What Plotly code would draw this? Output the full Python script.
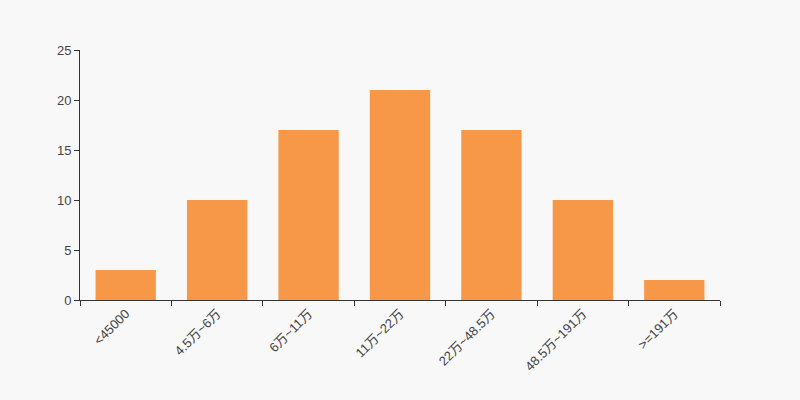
import plotly.graph_objects as go

# 收入区间与人数
categories = ["<45000", "4.5万~6万", "6万~11万", "11万~22万", "22万~48.5万", "48.5万~191万", ">=191万"]
values = [3, 10, 17, 21, 17, 10, 2]

fig = go.Figure()
fig.add_trace(go.Bar(x=categories, y=values, marker_color="#f79849",
                     marker_line_width=0, width=0.66, showlegend=False))

fig.update_layout(
    width=800, height=400,
    margin=dict(l=80, r=80, t=50, b=100),
    paper_bgcolor="#f8f8f8", plot_bgcolor="#f8f8f8",
    font=dict(family="Liberation Sans, Noto Sans CJK SC, sans-serif", size=13, color="#444"),
)
fig.update_xaxes(type="category", tickangle=-45, tickson="boundaries",
                 ticks="outside", ticklen=5, tickcolor="#333",
                 showline=True, linecolor="#333", linewidth=1,
                 showgrid=False, zeroline=False)
fig.update_yaxes(range=[0, 25], dtick=5, ticks="outside", ticklen=5, tickcolor="#333",
                 showline=True, linecolor="#333", linewidth=1,
                 showgrid=False, zeroline=False)

# 去掉页面默认边距和工具栏
fig.write_html("out.html", config={"displayModeBar": False},
               post_script="document.body.style.margin='0';document.body.style.background='#f8f8f8';")
